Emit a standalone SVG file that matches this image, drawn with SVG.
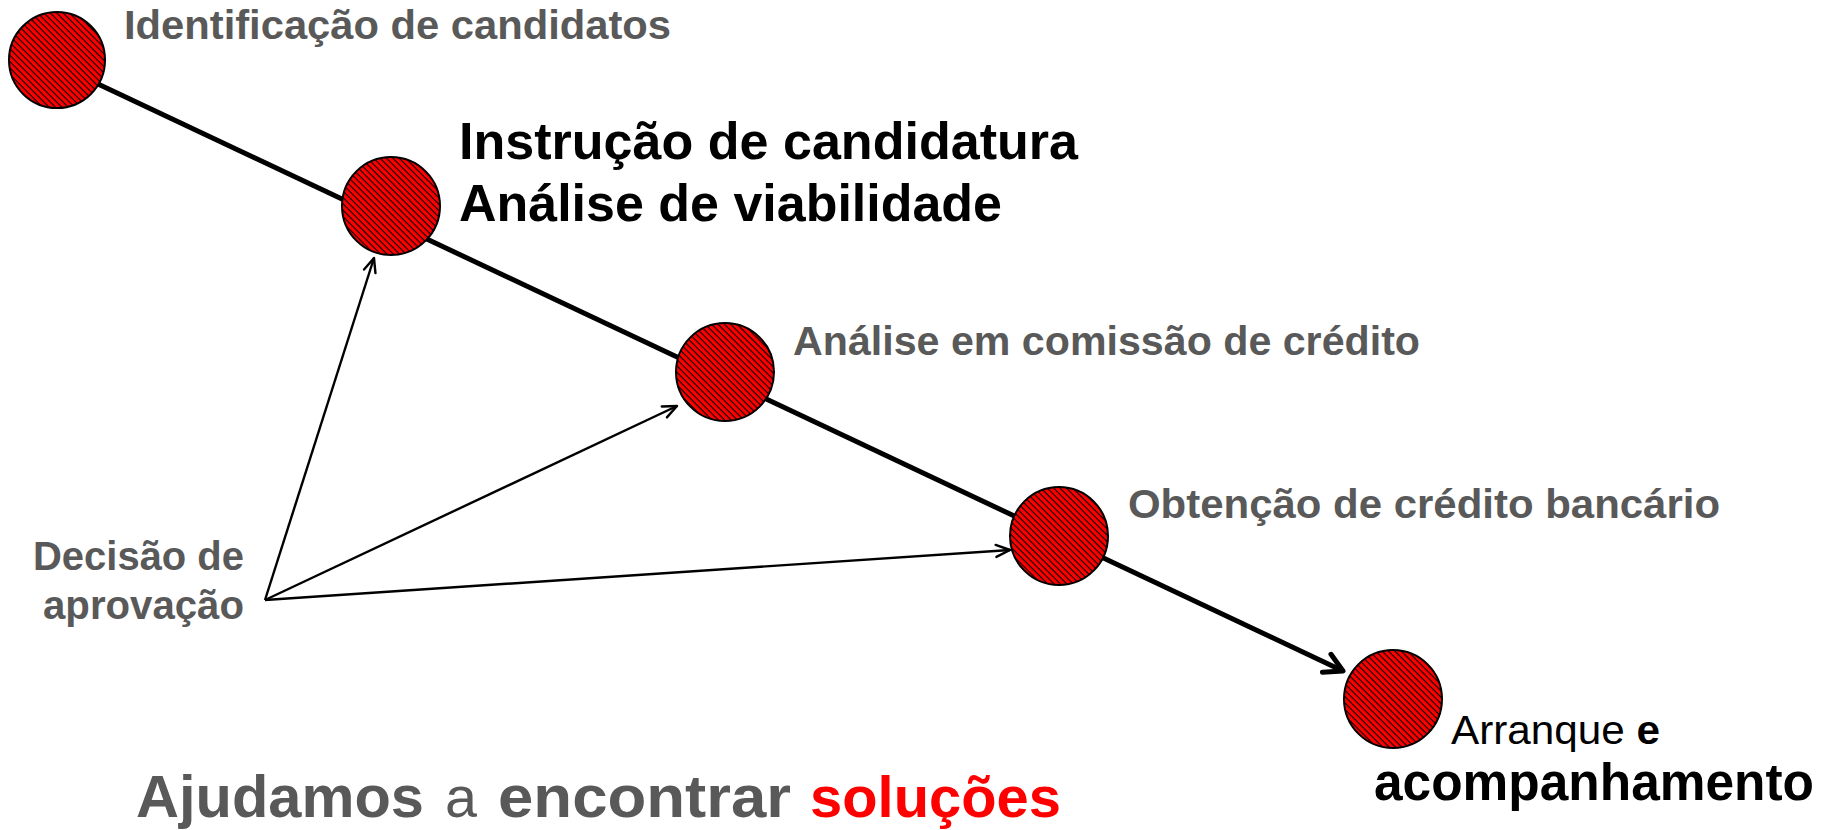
<svg xmlns="http://www.w3.org/2000/svg" width="1823" height="830" viewBox="0 0 1823 830">
  <defs>
    <pattern id="hatch" patternUnits="userSpaceOnUse" width="4.5" height="4.5" patternTransform="rotate(45)">
      <rect width="4.5" height="4.5" fill="#ff0000"/>
      <rect width="4.5" height="1.1" fill="#000000"/>
    </pattern>
    <marker id="openBig" markerUnits="userSpaceOnUse" markerWidth="30" markerHeight="30" refX="24" refY="12" orient="auto" viewBox="0 0 30 24">
      <path d="M6,2 L24,12 L6,22" fill="none" stroke="#000" stroke-width="5" stroke-linecap="round" stroke-linejoin="round"/>
    </marker>
    <marker id="openSmall" markerUnits="userSpaceOnUse" markerWidth="20" markerHeight="20" refX="17" refY="8" orient="auto" viewBox="0 0 20 16">
      <path d="M3,2 L17,8 L3,14" fill="none" stroke="#000" stroke-width="2.4" stroke-linecap="round" stroke-linejoin="round"/>
    </marker>
  </defs>
  <style>
    .node { fill: url(#hatch); stroke: #000; stroke-width: 2; }
    .lbl { font-family: "Liberation Sans", Arial, sans-serif; font-weight: bold; fill: #595959; }
    .dark { font-family: "Liberation Sans", Arial, sans-serif; font-weight: bold; fill: #000; }
    .reg { font-family: "Liberation Sans", Arial, sans-serif; }
    .main { stroke: #000; stroke-width: 5; fill: none; }
    .thin { stroke: #000; stroke-width: 2.4; fill: none; }
  </style>
  <rect width="1823" height="830" fill="#ffffff"/>
  <g id="connectors">
    <line class="main" x1="98" y1="84" x2="1343" y2="671" marker-end="url(#openBig)"/>
    <line class="thin" x1="265" y1="600" x2="374" y2="258" marker-end="url(#openSmall)"/>
    <line class="thin" x1="265" y1="600" x2="677" y2="406" marker-end="url(#openSmall)"/>
    <line class="thin" x1="265" y1="600" x2="1010" y2="550" marker-end="url(#openSmall)"/>
  </g>
  <g id="node1">
    <circle class="node" cx="57" cy="60" r="48"/>
    <text class="lbl" x="124" y="39" font-size="41" textLength="547" lengthAdjust="spacingAndGlyphs">Identificação de candidatos</text>
  </g>
  <g id="node2">
    <circle class="node" cx="391" cy="206" r="49"/>
    <text class="dark" x="459" y="159" font-size="52" textLength="619" lengthAdjust="spacingAndGlyphs">Instrução de candidatura</text>
    <text class="dark" x="459" y="221" font-size="52" textLength="543" lengthAdjust="spacingAndGlyphs">Análise de viabilidade</text>
  </g>
  <g id="node3">
    <circle class="node" cx="725" cy="372" r="49"/>
    <text class="lbl" x="793" y="355" font-size="41" textLength="627" lengthAdjust="spacingAndGlyphs">Análise em comissão de crédito</text>
  </g>
  <g id="node4">
    <circle class="node" cx="1059" cy="536" r="49"/>
    <text class="lbl" x="1128" y="518" font-size="41" textLength="592" lengthAdjust="spacingAndGlyphs">Obtenção de crédito bancário</text>
  </g>
  <g id="node5">
    <circle class="node" cx="1393" cy="699" r="49"/>
    <text class="reg" x="1451" y="744" font-size="41" fill="#000" textLength="209" lengthAdjust="spacingAndGlyphs">Arranque <tspan font-weight="bold">e</tspan></text>
    <text class="dark" x="1374" y="800" font-size="51" textLength="440" lengthAdjust="spacingAndGlyphs">acompanhamento</text>
  </g>
  <g id="decision">
    <text class="lbl" x="33" y="570" font-size="40" textLength="211" lengthAdjust="spacingAndGlyphs">Decisão de</text>
    <text class="lbl" x="43" y="619" font-size="40" textLength="201" lengthAdjust="spacingAndGlyphs">aprovação</text>
  </g>
  <g id="slogan">
    <text class="lbl" x="136" y="817" font-size="59" textLength="288" lengthAdjust="spacingAndGlyphs">Ajudamos</text>
    <text class="reg" x="445" y="817" font-size="58" fill="#595959" textLength="32" lengthAdjust="spacingAndGlyphs">a</text>
    <text class="lbl" x="498" y="817" font-size="60" textLength="293" lengthAdjust="spacingAndGlyphs">encontrar</text>
    <text class="lbl" x="810" y="817" font-size="58" style="fill:#ff0000" textLength="251" lengthAdjust="spacingAndGlyphs">soluções</text>
  </g>
</svg>
